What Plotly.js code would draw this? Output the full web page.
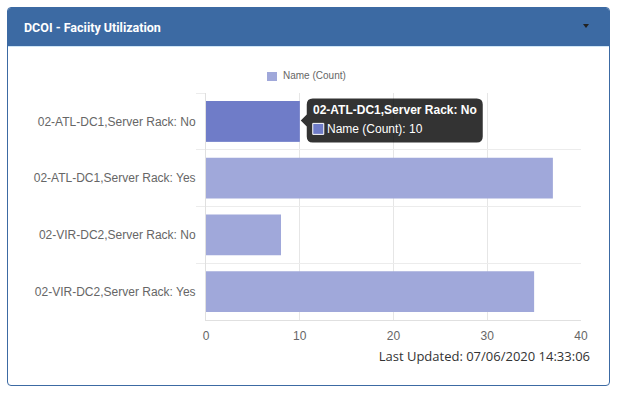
<!DOCTYPE html>
<html>
<head>
<meta charset="utf-8">
<script src="https://cdn.plot.ly/plotly-3.0.1.min.js"></script>
<style>
  html, body { margin:0; padding:0; background:#fff; width:617px; height:393px; overflow:hidden; }
  #panel { position:absolute; left:7px; top:7px; width:601px; height:377px; border:1px solid rgb(60,106,163); border-radius:4px; overflow:hidden; }
  #head { position:absolute; left:0; top:0; width:100%; height:38px; background:rgb(60,106,163); border-bottom:1px solid #cfe6f6; }
  #title { position:absolute; left:16px; top:12px; color:#fff; font:bold 12.5px Roboto, "Liberation Sans", sans-serif; }
  #caret { position:absolute; left:575px; top:16px; width:0; height:0; border-left:3.5px solid transparent; border-right:3.5px solid transparent; border-top:4px solid #222; }
  #chart { position:absolute; left:0; top:0; width:617px; height:393px; }
  #upd { position:absolute; right:27px; top:347px; color:#333; font:13px "Open Sans", sans-serif; }
</style>
</head>
<body>
<div id="panel"><div id="head"><div id="title">DCOI - Faciity Utilization</div><div id="caret"></div></div></div>
<div id="chart"></div>
<div id="upd">Last Updated: 07/06/2020 14:33:06</div>
<script>
const categories = ["02-ATL-DC1,Server Rack: No", "02-ATL-DC1,Server Rack: Yes", "02-VIR-DC2,Server Rack: No", "02-VIR-DC2,Server Rack: Yes"];
const counts = [10, 37, 8, 35];
const seriesName = "Name (Count)";
const xTicks = [0, 10, 20, 30, 40];
const hoverIndex = 0;

const baseColor = "rgb(160,168,218)";
const hoverColor = "rgb(111,124,200)";
const FONT = "Liberation Sans, Arial, sans-serif";

const trace = {
  type: "bar", orientation: "h",
  x: counts, y: categories, name: seriesName,
  marker: { color: baseColor },
  showlegend: false, hoverinfo: "skip"
};
const hoverTrace = {
  type: "bar", orientation: "h",
  x: [counts[hoverIndex]], y: [categories[hoverIndex]], name: seriesName,
  marker: { color: hoverColor },
  showlegend: false, hoverinfo: "skip"
};

const tipX = counts[hoverIndex], tipY = categories[hoverIndex];
const tipPath = "M 13,23 L 177,23 Q 183,23 183,17 L 183,-15 Q 183,-21 177,-21 L 13,-21 Q 7,-21 7,-15 L 7,-5 L 1,1 L 7,7 L 7,17 Q 7,23 13,23 Z";

const layout = {
  width: 617, height: 393,
  margin: { l: 206, r: 36, t: 93, b: 73, pad: 0 },
  paper_bgcolor: "rgba(0,0,0,0)", plot_bgcolor: "rgba(0,0,0,0)",
  font: { family: FONT, size: 12, color: "#666" },
  bargap: 0.28, barmode: "overlay",
  showlegend: false,
  xaxis: { range: [0, 40], tickvals: xTicks, ticktext: xTicks.map(String),
           showgrid: true, gridcolor: "#e6e6e6", zeroline: false,
           showline: true, linecolor: "#e0e0e0", linewidth: 1,
           ticks: "outside", ticklen: 5, tickcolor: "rgba(0,0,0,0)",
           tickfont: { family: FONT, size: 12, color: "#666" }, fixedrange: true },
  yaxis: { autorange: "reversed", type: "category", tickson: "boundaries",
           showgrid: true, gridcolor: "#ececec", zeroline: false,
           showline: true, linecolor: "#e0e0e0", linewidth: 1,
           ticks: "outside", ticklen: 9, tickcolor: "#ececec", ticklabelstandoff: 7,
           tickfont: { family: FONT, size: 12, color: "#666" }, fixedrange: true },
  shapes: [
    { type: "rect", xref: "paper", yref: "paper", x0: 0.1627, x1: 0.1893, y0: 1.0925, y1: 1.0529,
      fillcolor: baseColor, line: { width: 0 } },
    { type: "path", xref: "x", yref: "y", xsizemode: "pixel", ysizemode: "pixel",
      xanchor: tipX, yanchor: tipY, path: tipPath,
      fillcolor: "rgba(0,0,0,0.8)", line: { width: 0 } },
    { type: "rect", xref: "x", yref: "y", xsizemode: "pixel", ysizemode: "pixel",
      xanchor: tipX, yanchor: tipY, x0: 13, x1: 24, y0: -2, y1: -13,
      fillcolor: hoverColor, line: { color: "#fff", width: 1 } }
  ],
  annotations: [
    { x: 0.2027, y: 1.0749, xref: "paper", yref: "paper", xanchor: "left", yanchor: "middle",
      showarrow: false, borderpad: 0, text: seriesName, font: { family: FONT, size: 10, color: "#666" } },
    { x: tipX, y: tipY, xref: "x", yref: "y", xanchor: "left", yanchor: "middle",
      xshift: 12, yshift: 11.5, showarrow: false, borderpad: 0,
      text: "<b>" + categories[hoverIndex] + "</b>", font: { family: FONT, size: 12, color: "#fff" } },
    { x: tipX, y: tipY, xref: "x", yref: "y", xanchor: "left", yanchor: "middle",
      xshift: 26, yshift: -7.5, showarrow: false, borderpad: 0,
      text: seriesName + ": " + counts[hoverIndex], font: { family: FONT, size: 12, color: "#fff" } }
  ]
};

Plotly.newPlot("chart", [trace, hoverTrace], layout, { staticPlot: true, displayModeBar: false });
</script>
</body>
</html>
